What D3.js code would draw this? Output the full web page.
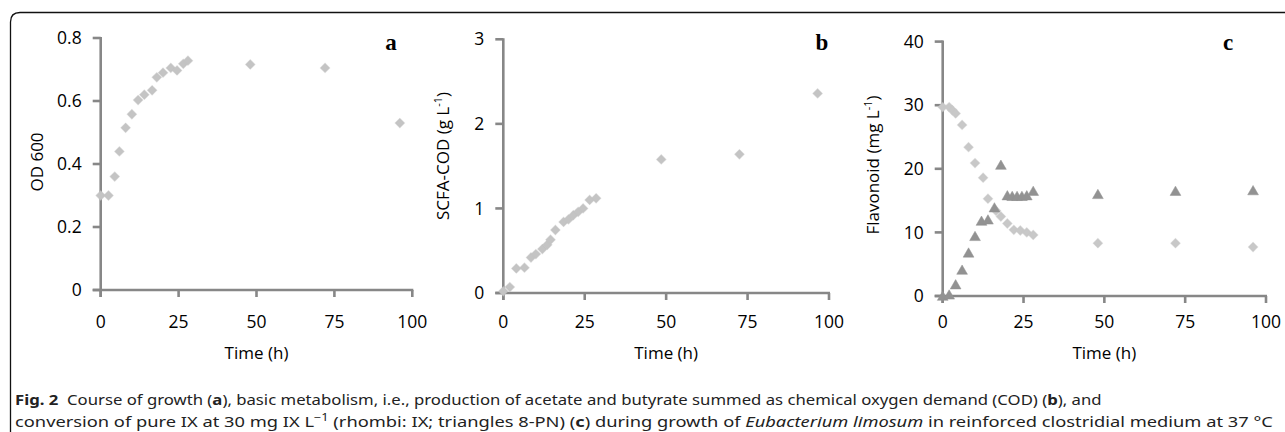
<!DOCTYPE html>
<html>
<head>
<meta charset="utf-8">
<script src="https://cdnjs.cloudflare.com/ajax/libs/d3/7.8.5/d3.min.js"></script>
<style>
  body { margin: 0; background: #fff; }
  svg { display: block; }
  .tick-label { font-family: "Open Sans", sans-serif; font-size: 17.5px; fill: #000; }
  .axis-title { font-family: "Open Sans", sans-serif; font-size: 17px; fill: #000; }
  .panel-letter { font-family: "Liberation Serif", "DejaVu Serif", serif; font-weight: bold; font-size: 23px; fill: #000; }
  .caption { font-family: "Noto Sans", sans-serif; font-size: 15px; fill: #222; }
</style>
</head>
<body>
<svg width="1285" height="432"></svg>
<script>
// panel a - OD 600
const timeA = [0, 2.5, 4.5, 6, 8, 10, 12, 14, 16.5, 18, 20, 22.5, 24.5, 26.5, 28, 48, 72, 96]
const odA = [0.30, 0.30, 0.36, 0.44, 0.515, 0.558, 0.603, 0.62, 0.634, 0.675, 0.69, 0.705, 0.697, 0.718, 0.728, 0.716, 0.705, 0.53]

// panel b - SCFA-COD
const timeB = [0, 2, 4, 6.5, 8.5, 10, 12, 13.5, 14.5, 16, 18.5, 20, 21.5, 23, 24.5, 26.5, 28.5, 48.5, 72.5, 96.5]
const codB = [0.02, 0.07, 0.29, 0.30, 0.42, 0.46, 0.52, 0.57, 0.63, 0.745, 0.84, 0.87, 0.92, 0.96, 1.0, 1.1, 1.12, 1.58, 1.64, 2.36]

// panel c - flavonoids
const timeIX = [0, 2, 3, 4, 6, 8, 10, 12.5, 14, 16.5, 18, 20, 22, 24, 26, 28, 48, 72, 96]
const ixC = [29.7, 29.7, 29.2, 28.7, 26.9, 23.4, 20.9, 18.6, 15.3, 13.4, 12.5, 11.4, 10.4, 10.3, 10.0, 9.6, 8.3, 8.3, 7.7]
const timePN = [0, 2, 4, 6, 8, 10, 12, 14, 16, 18, 20, 21.5, 23, 24.5, 26, 28, 48, 72, 96]
const pnC = [-0.2, 0, 1.6, 3.9, 6.6, 9.2, 11.6, 11.8, 13.7, 20.4, 15.6, 15.5, 15.5, 15.5, 15.6, 16.3, 15.8, 16.3, 16.4]

const xTicks = [0, 25, 50, 75, 100]
const yTicksA = [0, 0.2, 0.4, 0.6, 0.8]
const yTicksB = [0, 1, 2, 3]
const yTicksC = [0, 10, 20, 30, 40]

const svg = d3.select('svg')
const axisColor = '#878787'

// rounded frame (cut off on the right and bottom)
svg.append('path')
  .attr('d', 'M10.5,432 L10.5,22 Q10.5,12.5 20,12.5 L1285,12.5')
  .attr('fill', 'none')
  .attr('stroke', '#111')
  .attr('stroke-width', 1.3)

const diamond = d3.symbol().type(d3.symbolSquare).size(44)
const triangle = d3.symbol().type(d3.symbolTriangle).size(50)

function drawPanel(p) {
  const x = d3.scaleLinear().domain([0, 100]).range([p.x0, p.x1])
  const y = d3.scaleLinear().domain([0, p.ymax]).range([p.y0, p.y1])
  const g = svg.append('g')

  // y axis line + ticks
  g.append('line')
    .attr('x1', x(0)).attr('x2', x(0))
    .attr('y1', y(p.ymax) - 1).attr('y2', y(0) + 7)
    .attr('stroke', axisColor).attr('stroke-width', 2.6)
  g.selectAll('.yt').data(p.yTicks).enter().append('line')
    .attr('x1', x(0) - 8).attr('x2', x(0))
    .attr('y1', d => y(d)).attr('y2', d => y(d))
    .attr('stroke', axisColor).attr('stroke-width', 2.6)

  // x axis line + ticks
  g.append('line')
    .attr('x1', x(0) - 8).attr('x2', x(100) + 1)
    .attr('y1', y(0)).attr('y2', y(0))
    .attr('stroke', axisColor).attr('stroke-width', 2.6)
  g.selectAll('.xt').data(xTicks).enter().append('line')
    .attr('x1', d => x(d)).attr('x2', d => x(d))
    .attr('y1', y(0)).attr('y2', y(0) + 7)
    .attr('stroke', axisColor).attr('stroke-width', 2.6)

  // tick labels
  g.selectAll('.yl').data(p.yTicks).enter().append('text')
    .attr('class', 'tick-label')
    .attr('x', x(0) - 19)
    .attr('y', d => y(d))
    .attr('dy', '0.35em')
    .attr('text-anchor', 'end')
    .text(d => d)
  g.selectAll('.xl').data(xTicks).enter().append('text')
    .attr('class', 'tick-label')
    .attr('x', d => x(d))
    .attr('y', 328)
    .attr('text-anchor', 'middle')
    .text(d => d)

  // axis titles
  g.append('text')
    .attr('class', 'axis-title')
    .attr('x', (p.x0 + p.x1) / 2)
    .attr('y', 359)
    .attr('text-anchor', 'middle')
    .text('Time (h)')

  const yt = g.append('text')
    .attr('class', 'axis-title')
    .attr('transform', `translate(${p.titleX},${p.titleY}) rotate(-90)`)
    .attr('text-anchor', 'middle')
  yt.append('tspan').text(p.title)
  if (p.unit) {
    yt.append('tspan').text('\u00a0(' + p.unit + '\u00a0L')
    yt.append('tspan').attr('dy', -7).attr('font-size', 11).text('-1')
    yt.append('tspan').attr('dy', 7).text(')')
  }

  g.append('text')
    .attr('class', 'panel-letter')
    .attr('x', p.letterX)
    .attr('y', 50)
    .attr('text-anchor', 'middle')
    .text(p.letter)

  p.series.forEach(s => {
    g.selectAll(null).data(s.t).enter().append('path')
      .attr('d', s.shape === 'tri' ? triangle : diamond)
      .attr('transform', (d, i) => `translate(${x(d)},${y(s.v[i])})` + (s.shape === 'tri' ? '' : ' rotate(45)'))
      .attr('fill', s.color)
      .attr('stroke', s.color)
      .attr('stroke-opacity', 0.5)
      .attr('stroke-width', 1)
  })
}

drawPanel({
  x0: 100.7, x1: 412.3, y0: 290, y1: 38, ymax: 0.8, yTicks: yTicksA,
  title: 'OD 600', titleX: 43, titleY: 162, letter: 'a', letterX: 391,
  series: [{ t: timeA, v: odA, color: '#c4c4c4', shape: 'dia' }]
})

drawPanel({
  x0: 503.3, x1: 829, y0: 293, y1: 39.3, ymax: 3, yTicks: yTicksB,
  title: 'SCFA-COD', unit: 'g', titleX: 449, titleY: 156, letter: 'b', letterX: 822,
  series: [{ t: timeB, v: codB, color: '#c4c4c4', shape: 'dia' }]
})

drawPanel({
  x0: 942.7, x1: 1266, y0: 296, y1: 41.6, ymax: 40, yTicks: yTicksC,
  title: 'Flavonoid', unit: 'mg', titleX: 879, titleY: 165, letter: 'c', letterX: 1228,
  series: [
    { t: timeIX, v: ixC, color: '#c8c8c8', shape: 'dia' },
    { t: timePN, v: pnC, color: '#929292', shape: 'tri' }
  ]
})

// caption
function captionLine(y, parts, targetRight) {
  const t = svg.append('text').attr('class', 'caption').attr('x', 15).attr('y', y)
  parts.forEach(pt => {
    const s = t.append('tspan').text(pt.s)
    if (pt.b) s.attr('font-weight', 'bold')
    if (pt.i) s.attr('font-style', 'italic')
    if (pt.sup) s.attr('dy', -6).attr('font-size', 10.5)
    if (pt.down) s.attr('dy', 6)
  })
  const w = t.node().getComputedTextLength()
  const k = (targetRight - 15) / w
  t.attr('transform', `translate(${15 - 15 * k},0) scale(${k},1)`)
}

captionLine(405, [
  { s: 'Fig.\u00a02', b: true },
  { s: '\u00a0\u00a0Course of growth (' }, { s: 'a', b: true },
  { s: '), basic metabolism, i.e., production of acetate and butyrate summed as chemical oxygen demand (COD) (' },
  { s: 'b', b: true }, { s: '), and' }
], 1102)

captionLine(427, [
  { s: 'conversion of pure IX at 30 mg IX L' },
  { s: '\u22121', sup: true },
  { s: ' (rhombi: IX; triangles 8-PN) (', down: true },
  { s: 'c', b: true },
  { s: ') during growth of ' },
  { s: 'Eubacterium limosum', i: true },
  { s: ' in reinforced clostridial medium at 37 \u00b0C' }
], 1273)
</script>
</body>
</html>
